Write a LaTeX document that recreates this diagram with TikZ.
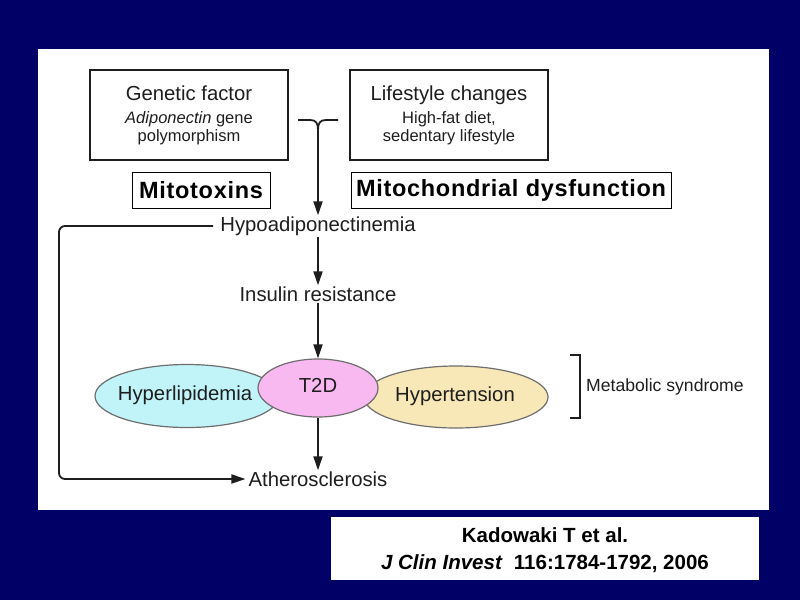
\documentclass[tikz,border=0pt]{standalone}
\usepackage{fontspec}
\setmainfont{Liberation Sans}
\usetikzlibrary{arrows.meta,shapes.geometric}
\definecolor{navy}{RGB}{0,0,102}
\definecolor{ink}{RGB}{30,30,30}
\definecolor{cyanfill}{RGB}{192,244,248}
\definecolor{pinkfill}{RGB}{248,184,240}
\definecolor{yellowfill}{RGB}{248,232,184}
\definecolor{edgegray}{RGB}{110,110,110}
\tikzset{
  fs/.style={font=\fontsize{#1}{24}\selectfont},
  srcbox/.style={draw=ink, line width=1.8pt, minimum width=198pt, minimum height=90pt, inner sep=0pt, align=center, text=ink, font=\fontsize{16.5}{18}\selectfont},
  redbox/.style={draw=black, line width=0.8pt, fill=white, minimum height=36pt, inner sep=5pt, text=black, font=\bfseries\fontsize{23.5}{26}\selectfont\addfontfeature{LetterSpace=3}},
  lbl/.style={text=ink, inner sep=1pt, fs=20.3},
  blob/.style={ellipse, draw=edgegray, line width=1.2pt, inner sep=0pt},
  arr/.style={line width=1.8pt, draw=ink, -{Triangle[length=14pt,width=9pt]}},
  ln/.style={line width=1.8pt, draw=ink},
}
\begin{document}
\begin{tikzpicture}[x=1pt,y=-1pt]
\useasboundingbox (0,0) rectangle (800,600);
\fill[navy] (0,0) rectangle (800,600);
\fill[white] (38,49) rectangle (769,510);
\fill[white] (331,517) rectangle (759,580);

% source boxes
\node[srcbox] (gen) at (189,115) {{\fontsize{20.3}{24}\selectfont Genetic factor}\\[5pt]
  \textit{Adiponectin} gene\\
  polymorphism};
\node[srcbox] (life) at (449,115) {{\fontsize{20.3}{24}\selectfont Lifestyle changes}\\[5pt]
  High-fat diet,\\
  sedentary lifestyle};

% junction
\coordinate (jl) at (298,120);
\coordinate (jr) at (338,120);
\coordinate (jm) at (318,130);

\node[lbl] (hypo) at (318,226) {Hypoadiponectinemia};
\node[lbl] (ins) at (318,294) {Insulin resistance};

\draw[ln] (jl) -- (310,120) .. controls (316,120) and (318,123) .. (jm);
\draw[ln] (jr) -- (326,120) .. controls (320,120) and (318,123) .. (jm);
\draw[arr] (jm) -- (hypo.north);

% overlay boxes
\node[redbox, minimum width=138pt] (mito) at (201,190) {Mitotoxins};
\node[redbox, minimum width=320pt] (mdys) at (511,190) {Mitochondrial dysfunction};

% ellipses
\node[blob, fill=cyanfill, minimum width=184pt, minimum height=63pt] (hyperl) at (187,396) {};
\node[blob, fill=yellowfill, minimum width=184pt, minimum height=62pt] (hypert) at (456,397) {};
\node[blob, fill=pinkfill, minimum width=120pt, minimum height=58pt] (t2d) at (318,388) {};
\node[text=ink, fs=20.3] at (185,395) {Hyperlipidemia};
\node[text=ink, fs=20.3] at (455,396) {Hypertension};
\node[text=ink, fs=20.3] at (318,385) {T2D};

\node[lbl] (ath) at (318,479) {Atherosclerosis};

\draw[arr] (hypo.south) -- (ins.north);
\draw[arr] (ins.south) -- (t2d.north);
\draw[arr] (t2d.south) -- (ath.north);

\draw[line width=1.8pt, draw=ink, rounded corners=6pt, -{Triangle[length=14pt,width=9pt]}]
  ([xshift=-6pt]hypo.west) -- (59,226) -- (59,479) -- ([xshift=-2pt]ath.west);

% metabolic syndrome bracket
\coordinate (bt) at (570,355);
\coordinate (bb) at (570,418);
\draw[line width=1.3pt, draw=ink] (bt) -- (580,355) -- (580,418) -- (bb);
\node[text=ink, anchor=west, inner sep=0pt, fs=17.6] (ms) at (586,387) {Metabolic syndrome};

% citation
\node[font=\bfseries\fontsize{20.5}{27}\selectfont, align=center, inner sep=0pt] (cite) at (545,550)
  {Kadowaki T et al.\\ \textit{J Clin Invest}\ \ 116:1784-1792, 2006};
\end{tikzpicture}
\end{document}
